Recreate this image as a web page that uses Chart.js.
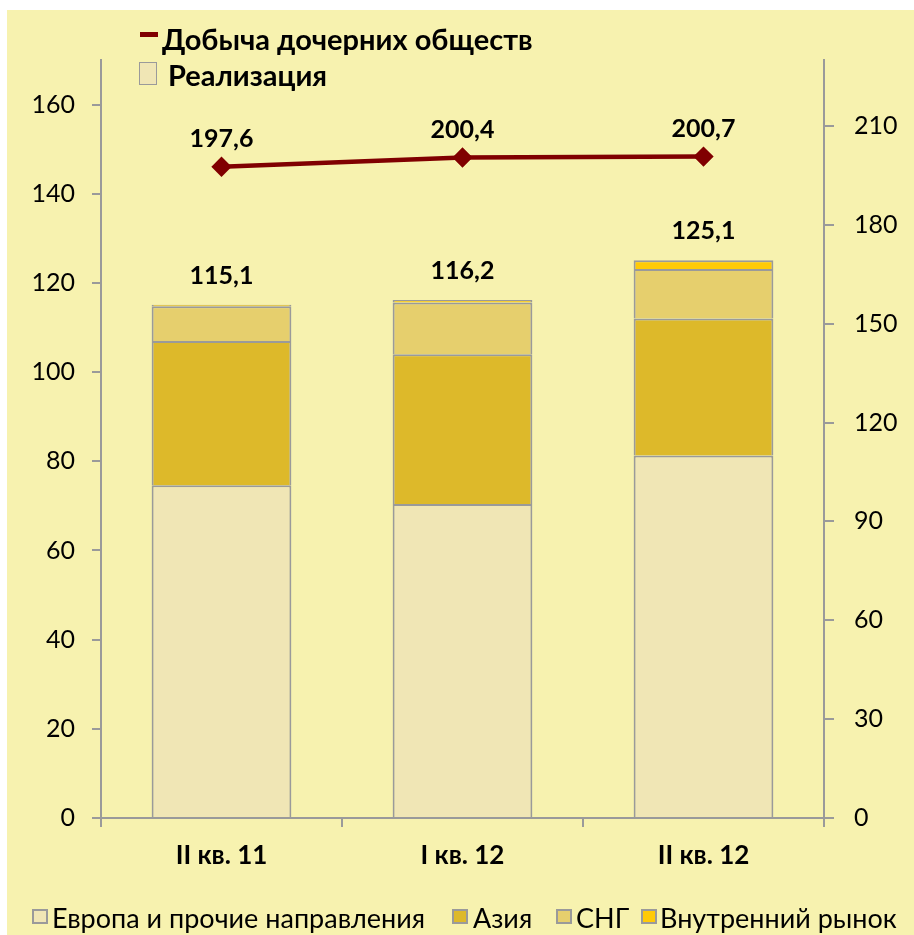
<!DOCTYPE html>
<html>
<head>
<meta charset="utf-8">
<script src="https://cdn.jsdelivr.net/npm/chart.js@4"></script>
<style>
  html, body { margin: 0; padding: 0; background: #ffffff; }
  #page { position: relative; width: 914px; height: 935px; overflow: hidden; font-family: Lato, "Open Sans", sans-serif; }
  #bg { position: absolute; left: 7px; top: 10px; width: 907px; height: 925px; background: #F7F2AF; }
  #wrap { position: absolute; left: 0; top: 0; width: 914px; height: 935px; }
  .lg { position: absolute; color: #000; white-space: nowrap; line-height: 1; }
  .top { font-weight: bold; font-size: 29px; }
  .bot { font-size: 27px; }
  .sw { position: absolute; box-sizing: border-box; border: 2px solid #9a9a9a; }
</style>
</head>
<body>
<div id="page">
  <div id="bg"></div>
  <div id="wrap"><canvas id="chart"></canvas></div>

  <div style="position:absolute;left:140px;top:32px;width:18px;height:5px;background:#800000;"></div>
  <div class="lg top" style="left:162px;top:24px;">Добыча дочерних обществ</div>
  <div class="sw" style="left:139px;top:62px;width:18px;height:23px;background:#F0E6B5;border-width:1px;"></div>
  <div class="lg top" style="left:168px;top:60px;">Реализация</div>

  <div class="sw" style="left:32px;top:909px;width:16px;height:15px;background:#F0E6B5;"></div>
  <div class="lg bot" style="left:52px;top:904px;">Европа и прочие направления</div>
  <div class="sw" style="left:452px;top:909px;width:16px;height:15px;background:#DDB92A;"></div>
  <div class="lg bot" style="left:473px;top:904px;">Азия</div>
  <div class="sw" style="left:556px;top:909px;width:16px;height:15px;background:#E6CF6D;"></div>
  <div class="lg bot" style="left:576px;top:904px;">СНГ</div>
  <div class="sw" style="left:641px;top:909px;width:16px;height:15px;background:#FFCA08;"></div>
  <div class="lg bot" style="left:660px;top:904px;">Внутренний рынок</div>
</div>

<script>
// quarters
const categories = ['II кв. 11', 'I кв. 12', 'II кв. 12'];

// sales breakdown (left axis)
const europe   = [74.6, 70.4, 81.3];
const asia     = [32.4, 33.6, 30.7];
const cis      = [7.8, 11.6, 11.1];
const domestic = [0.3, 0.6, 2.0];
const salesTotals = [115.1, 116.2, 125.1];

// subsidiaries production (right axis)
const production = [197.6, 200.4, 200.7];

const fmt = v => v.toFixed(1).replace('.', ',');

const labelPlugin = {
  id: 'valueLabels',
  afterDatasetsDraw(chart) {
    const ctx = chart.ctx;
    ctx.save();
    ctx.font = 'bold 25px Lato, sans-serif';
    ctx.fillStyle = '#000';
    ctx.textAlign = 'center';
    ctx.textBaseline = 'middle';
    const topMeta = chart.getDatasetMeta(4);
    topMeta.data.forEach((bar, i) => {
      ctx.fillText(fmt(salesTotals[i]), bar.x, bar.y - 29);
    });
    const lineMeta = chart.getDatasetMeta(0);
    lineMeta.data.forEach((pt, i) => {
      ctx.fillText(fmt(production[i]), pt.x, pt.y - 28);
    });
    ctx.restore();
  }
};

const barStyle = { borderColor: '#9a9a9a', borderWidth: 2, barPercentage: 0.58, categoryPercentage: 1, yAxisID: 'y', order: 1, stack: 's' };

new Chart(document.getElementById('chart'), {
  data: {
    labels: categories,
    datasets: [
      { type: 'line', label: 'Добыча дочерних обществ', data: production, yAxisID: 'y2', order: 0,
        borderColor: '#800000', backgroundColor: '#800000', borderWidth: 4.5,
        pointStyle: 'rectRot', pointRadius: 7, pointHoverRadius: 7 },
      { type: 'bar', label: 'Европа и прочие направления', data: europe, backgroundColor: '#F0E6B5', ...barStyle },
      { type: 'bar', label: 'Азия', data: asia, backgroundColor: '#DDB92A', ...barStyle },
      { type: 'bar', label: 'СНГ', data: cis, backgroundColor: '#E6CF6D', ...barStyle },
      { type: 'bar', label: 'Внутренний рынок', data: domestic, backgroundColor: '#FFCA08', ...barStyle }
    ]
  },
  options: {
    responsive: true,
    maintainAspectRatio: false,
    animation: false,
    layout: { padding: { top: 60, left: 0, right: 0, bottom: 0 } },
    plugins: { legend: { display: false }, tooltip: { enabled: false } },
    scales: {
      x: {
        stacked: true,
        offset: true,
        grid: { display: true, offset: true, drawOnChartArea: false, color: '#9a9a9a', lineWidth: 2, tickLength: 9 },
        border: { color: '#9a9a9a', width: 2 },
        ticks: { color: '#000', font: { family: 'Lato, sans-serif', size: 26, weight: 'bold' }, padding: 13 },
        afterFit: s => { s.height = 117; }
      },
      y: {
        position: 'left',
        stacked: true,
        min: 0, max: 170,
        ticks: { stepSize: 20, color: '#000', font: { family: 'Lato, sans-serif', size: 25 }, padding: 17 },
        afterBuildTicks: s => { s.ticks = s.ticks.filter(t => t.value % 20 === 0); },
        grid: { drawOnChartArea: false, color: '#9a9a9a', lineWidth: 2, tickLength: 9 },
        border: { color: '#9a9a9a', width: 2 },
        afterFit: s => { s.width = 101; }
      },
      y2: {
        position: 'right',
        min: 0, max: 230,
        ticks: { stepSize: 30, color: '#000', font: { family: 'Lato, sans-serif', size: 25 }, padding: 20 },
        afterBuildTicks: s => { s.ticks = s.ticks.filter(t => t.value % 30 === 0); },
        grid: { drawOnChartArea: false, color: '#9a9a9a', lineWidth: 2, tickLength: 10 },
        border: { color: '#9a9a9a', width: 2 },
        afterFit: s => { s.width = 90; }
      }
    }
  },
  plugins: [labelPlugin]
});
</script>
</body>
</html>
